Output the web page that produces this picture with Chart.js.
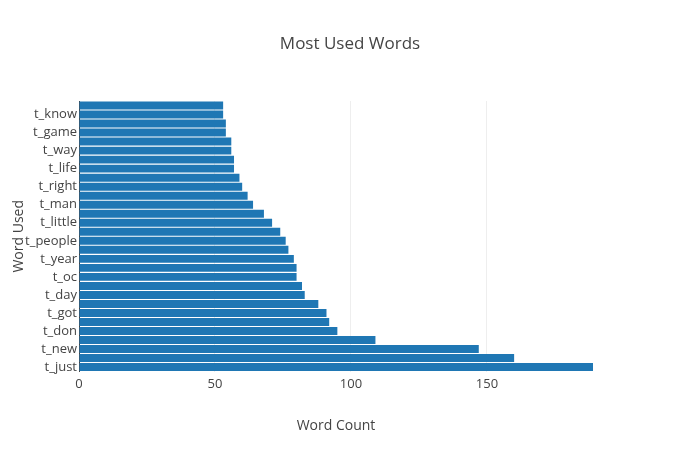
<!DOCTYPE html>
<html><head><script src="https://cdn.jsdelivr.net/npm/chart.js@4"></script>
<style>body{margin:0;background:#fff}#w{width:700px;height:450px}</style></head>
<body><div id="w"><canvas id="c"></canvas></div>
<script>
const categories = ["t_just","","t_new","","t_don","","t_got","","t_day","","t_oc","","t_year","","t_people","","t_little","","t_man","","t_right","","t_life","","t_way","","t_game","","t_know",""];
const counts = [189,160,147,109,95,92,91,88,83,82,80,80,79,77,76,74,71,68,64,62,60,59,57,57,56,56,54,54,53,53];
const xTicks = [0,50,100,150];
const chartTitle = 'Most Used Words';
const font = "'Open Sans', sans-serif";
const titlePlugin = { id: 'ctitle', afterDraw(chart) {
  const c = chart.ctx; c.save(); c.fillStyle = '#444'; c.font = "17px 'Open Sans', sans-serif";
  c.textAlign = 'center'; c.textBaseline = 'middle'; c.fillText(chartTitle, chart.width/2, 44); c.restore(); } };
new Chart(document.getElementById('c'), {
  type: 'bar',
  plugins: [titlePlugin],
  data: { labels: categories.map((c,i)=>c||(' '.repeat(i))), datasets: [{ data: counts, backgroundColor: '#1f77b4', barPercentage: 0.88, categoryPercentage: 1 }] },
  options: {
    indexAxis: 'y', responsive: true, maintainAspectRatio: false, animation: false,
    layout: { padding: { left: 11, right: 107, top: 101, bottom: 12 } },
    plugins: { legend: { display: false }, tooltip: { enabled: false } },
    scales: {
      x: { min: 0, max: 189, afterBuildTicks: a => { a.ticks = xTicks.map(v=>({value:v})); },
        grid: { color: '#eee', drawTicks: false }, border: { display: false },
        ticks: { color: '#444', font: { family: font, size: 13 }, padding: 5 },
        title: { display: true, text: 'Word Count', color: '#444', font: { family: font, size: 14 }, padding: { top: 20 } } },
      y: { reverse: true, grid: { display: false, drawTicks: false }, border: { display: true, color: '#444' },
        afterFit: a => { a.width = 68; },
        ticks: { autoSkip: false, color: '#444', font: { family: font, size: 13 }, padding: 2 },
        title: { display: true, text: 'Word Used', color: '#444', font: { family: font, size: 14 }, padding: 0 } }
    }
  }
});
</script></body></html>
